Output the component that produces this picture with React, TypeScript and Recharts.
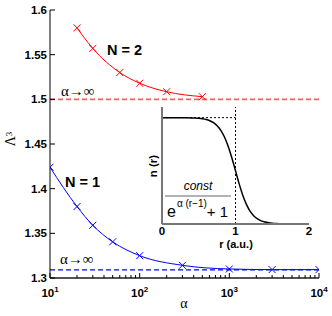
import React from 'react';
import { LineChart, Line, XAxis, YAxis, ReferenceLine } from 'recharts';

// ---- main plot data ----
const alphaN2 = [20, 30, 60, 100, 200, 500];
const lambdaN2 = [1.58, 1.557, 1.53, 1.518, 1.5085, 1.503];
const alphaN1 = [10, 20, 30, 50, 100, 300, 1000, 3000, 10000];
const lambdaN1 = [1.424, 1.38, 1.359, 1.3405, 1.325, 1.3142, 1.3101, 1.3094, 1.3094];
const limitN2 = 1.5;
const limitN1 = 1.309;

const xMajorTicks = [10, 100, 1000, 10000];
const xMajorExponents = ['1', '2', '3', '4'];
const xMinorTicks = [20, 30, 40, 50, 60, 70, 80, 90, 200, 300, 400, 500, 600, 700, 800, 900, 2000, 3000, 4000, 5000, 6000, 7000, 8000, 9000];
const yTicks = [1.3, 1.35, 1.4, 1.45, 1.5, 1.55, 1.6];
const yTickLabels = ['1.3', '1.35', '1.4', '1.45', '1.5', '1.55', '1.6'];

// ---- inset data (Fermi-like profile) ----
const insetR = [0, 0.05, 0.1, 0.15, 0.2, 0.25, 0.3, 0.35, 0.4, 0.45, 0.5, 0.55, 0.6, 0.65, 0.7, 0.75, 0.8, 0.85, 0.9, 0.95, 1.0, 1.05, 1.1, 1.15, 1.2, 1.25, 1.3, 1.35, 1.4, 1.45, 1.5, 1.55, 1.6, 1.65, 1.7, 1.75, 1.8, 1.85, 1.9, 1.95, 2.0];
const insetN = [1.0, 1.0, 0.9999, 0.9998, 0.9997, 0.9994, 0.9991, 0.9985, 0.9975, 0.9959, 0.9933, 0.989, 0.982, 0.9707, 0.9526, 0.9241, 0.8808, 0.8176, 0.7311, 0.6225, 0.5, 0.3775, 0.2689, 0.1824, 0.1192, 0.0759, 0.0474, 0.0293, 0.018, 0.011, 0.0067, 0.0041, 0.0025, 0.0015, 0.0009, 0.0005, 0.0003, 0.0002, 0.0001, 0.0001, 0.0];
const insetTicks = [0, 1, 2];
const stepEdge = 1;
const stepLevel = 1;

const n2Data = alphaN2.map((a, i) => ({ a, v: lambdaN2[i] }));
const n1Data = alphaN1.map((a, i) => ({ a, v: lambdaN1[i] }));
const insetData = insetR.map((r, i) => ({ r, n: insetN[i] }));
const allXTicks = [...xMajorTicks, ...xMinorTicks].sort((p, q) => p - q);

const SANS = 'Liberation Sans, Arial, sans-serif';
const SERIF = 'Liberation Serif, Times New Roman, serif';

function makeCross(color: string) {
  return (props: any) => {
    const { cx, cy, index } = props;
    if (cx == null || cy == null) return <g key={`e${index}`} />;
    const s = 3.5;
    return (
      <g key={`m${index}`}>
        <line x1={cx - s} y1={cy - s} x2={cx + s} y2={cy + s} stroke={color} strokeWidth={1} />
        <line x1={cx - s} y1={cy + s} x2={cx + s} y2={cy - s} stroke={color} strokeWidth={1} />
      </g>
    );
  };
}

const BottomTick = (props: any) => {
  const { x, y, payload } = props;
  const v = payload.value;
  const mi = xMajorTicks.indexOf(v);
  const major = mi >= 0;
  const len = major ? 5 : 3;
  return (
    <g>
      <line x1={x} y1={y} x2={x} y2={y - len} stroke="#000" strokeWidth={1} />
      {major && (
        <text x={x} y={y + 18.5} textAnchor="middle" fontFamily={SANS} fontWeight="bold" fontSize={11.5} fill="#000">
          10<tspan fontSize={8} dy={-5}>{xMajorExponents[mi]}</tspan>
        </text>
      )}
    </g>
  );
};

const TopTick = (props: any) => {
  const { x, y, payload } = props;
  const major = xMajorTicks.indexOf(payload.value) >= 0;
  const len = major ? 5 : 3;
  return <line x1={x} y1={y} x2={x} y2={y + len} stroke="#000" strokeWidth={1} />;
};

const LeftTick = (props: any) => {
  const { x, y, payload, index } = props;
  const idx = yTicks.indexOf(payload.value);
  return (
    <g>
      <line x1={x} y1={y} x2={x + 5} y2={y} stroke="#000" strokeWidth={1} />
      <text x={x - 3} y={y + 4} textAnchor="end" fontFamily={SANS} fontWeight="bold" fontSize={11.5} fill="#000">
        {yTickLabels[idx >= 0 ? idx : index]}
      </text>
    </g>
  );
};

const RightTick = (props: any) => {
  const { x, y } = props;
  return <line x1={x} y1={y} x2={x - 5} y2={y} stroke="#000" strokeWidth={1} />;
};

const InsetBottomTick = (props: any) => {
  const { x, y, payload } = props;
  return (
    <text x={x} y={y + 10.5} textAnchor="middle" fontFamily={SANS} fontWeight="bold" fontSize={11.5} fill="#000">
      {String(payload.value)}
    </text>
  );
};

export default function App() {
  return (
    <div style={{ position: 'absolute', left: 0, top: 0, width: 332, height: 316, background: '#fff' }}>
      <div style={{ position: 'absolute', left: 0, top: 0 }}>
        <LineChart width={332} height={316} margin={{ top: 10, right: 13, bottom: 0, left: 0 }}>
          <XAxis
            xAxisId="b"
            type="number"
            dataKey="a"
            scale="log"
            domain={[10, 10000]}
            allowDataOverflow
            ticks={allXTicks}
            interval={0}
            tick={BottomTick}
            tickLine={false}
            tickSize={0}
            tickMargin={0}
            height={38}
            axisLine={{ stroke: '#555', strokeWidth: 1.8 }}
          />
          <XAxis
            xAxisId="t"
            orientation="top"
            type="number"
            dataKey="a"
            scale="log"
            domain={[10, 10000]}
            allowDataOverflow
            ticks={allXTicks}
            interval={0}
            tick={TopTick}
            tickLine={false}
            tickSize={0}
            tickMargin={0}
            height={0}
            axisLine={{ stroke: '#000', strokeWidth: 1 }}
          />
          <YAxis
            yAxisId="l"
            type="number"
            domain={[1.3, 1.6]}
            allowDataOverflow
            ticks={yTicks}
            interval={0}
            tick={LeftTick}
            tickLine={false}
            tickSize={0}
            tickMargin={0}
            width={50}
            axisLine={{ stroke: '#000', strokeWidth: 1 }}
          />
          <YAxis
            yAxisId="r"
            orientation="right"
            type="number"
            domain={[1.3, 1.6]}
            allowDataOverflow
            ticks={yTicks}
            interval={0}
            tick={RightTick}
            tickLine={false}
            tickSize={0}
            tickMargin={0}
            width={0}
            axisLine={{ stroke: '#555', strokeWidth: 1.8 }}
          />
          <ReferenceLine xAxisId="b" yAxisId="l" y={limitN2} stroke="#ff5c5c" strokeWidth={1.6} strokeDasharray="5 3" />
          <ReferenceLine xAxisId="b" yAxisId="l" y={limitN1} stroke="#0000ff" strokeWidth={1.2} strokeDasharray="5 3" />
          <Line
            xAxisId="b"
            yAxisId="l"
            data={n2Data}
            dataKey="v"
            type="monotone"
            stroke="#ff0000"
            strokeWidth={1}
            dot={makeCross('#ff0000')}
            isAnimationActive={false}
          />
          <Line
            xAxisId="b"
            yAxisId="l"
            data={n1Data}
            dataKey="v"
            type="monotone"
            stroke="#0000ff"
            strokeWidth={1}
            dot={makeCross('#0000ff')}
            isAnimationActive={false}
          />
        </LineChart>
      </div>

      <div style={{ position: 'absolute', left: 140, top: 100 }}>
        <LineChart width={180} height={160} margin={{ top: 7, right: 11, bottom: 0, left: 0 }}>
          <XAxis
            xAxisId="b"
            type="number"
            dataKey="r"
            domain={[0, 2]}
            ticks={insetTicks}
            interval={0}
            tick={InsetBottomTick}
            tickLine={false}
            tickSize={0}
            tickMargin={0}
            height={36}
            axisLine={{ stroke: '#777', strokeWidth: 2 }}
          />
          <XAxis xAxisId="t" orientation="top" type="number" dataKey="r" domain={[0, 2]} tick={false} tickLine={false} height={0} axisLine={{ stroke: '#777', strokeWidth: 2 }} />
          <YAxis yAxisId="l" type="number" domain={[0, 1.1]} tick={false} tickLine={false} width={22} axisLine={{ stroke: '#777', strokeWidth: 2 }} />
          <YAxis yAxisId="r" orientation="right" type="number" domain={[0, 1.1]} tick={false} tickLine={false} width={0} axisLine={{ stroke: '#000', strokeWidth: 1 }} />
          <ReferenceLine xAxisId="b" yAxisId="l" x={stepEdge} stroke="#000" strokeWidth={1} strokeDasharray="2 2" />
          <ReferenceLine
            xAxisId="b"
            yAxisId="l"
            segment={[{ x: 0, y: stepLevel }, { x: stepEdge, y: stepLevel }]}
            stroke="#000"
            strokeWidth={1}
            strokeDasharray="2 2"
          />
          <Line
            xAxisId="b"
            yAxisId="l"
            data={insetData}
            dataKey="n"
            type="monotone"
            stroke="#000"
            strokeWidth={1.5}
            dot={false}
            isAnimationActive={false}
          />
        </LineChart>
      </div>

      <svg width={332} height={316} style={{ position: 'absolute', left: 0, top: 0, pointerEvents: 'none' }}>
        <text x={107} y={55} fontFamily={SANS} fontWeight="bold" fontSize={14.5} fill="#000">N = 2</text>
        <text x={65} y={187} fontFamily={SANS} fontWeight="bold" fontSize={14.5} fill="#000">N = 1</text>
        <text x={61} y={96} fontFamily={SERIF} fontSize={15} fill="#000">α→∞</text>
        <text x={60} y={264} fontFamily={SERIF} fontSize={15} fill="#000">α→∞</text>
        <text x={184} y={308} textAnchor="middle" fontFamily={SERIF} fontSize={14} fill="#000">α</text>
        <text x={15} y={139} transform="rotate(-90 15 139)" textAnchor="middle" fontFamily={SERIF} fontSize={14} fill="#000">
          Λ<tspan fontSize={9} dy={-3}>3</tspan>
        </text>
        {/* inset labels */}
        <text x={236} y={248} textAnchor="middle" fontFamily={SANS} fontWeight="bold" fontSize={11} fill="#000">r (a.u.)</text>
        <text x={157} y={166} transform="rotate(-90 157 166)" textAnchor="middle" fontFamily={SANS} fontWeight="bold" fontSize={11.5} fill="#000">n (r)</text>
        <text x={198} y={190} textAnchor="middle" fontFamily={SANS} fontStyle="italic" fontSize={12} fill="#000">const</text>
        <line x1={165} y1={196} x2={231} y2={196} stroke="#666" strokeWidth={1.2} />
        <text x={167} y={217} fontFamily={SANS} fontSize={16} fill="#000">
          e<tspan fontSize={10} dy={-10} dx={1}>α (r−1)</tspan><tspan fontSize={15} dy={10}>+ 1</tspan>
        </text>
      </svg>
    </div>
  );
}
